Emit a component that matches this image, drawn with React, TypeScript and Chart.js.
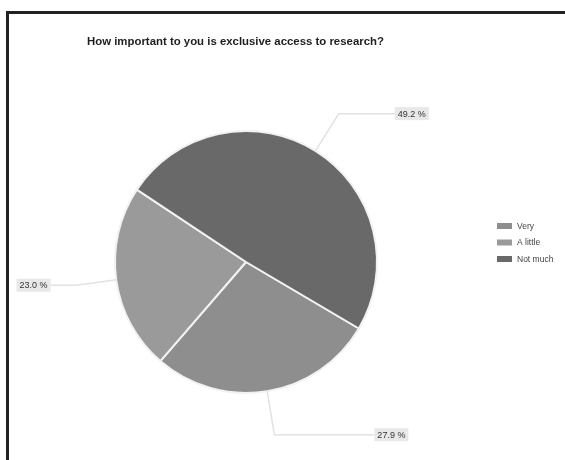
import React, { useEffect, useRef } from "react";
import { Chart, registerables } from "chart.js";

Chart.register(...registerables);

const chartTitle = "How important to you is exclusive access to research?";
const categories = ["Very", "A little", "Not much"];
const shares = [27.9, 23.0, 49.2];

const sliceColors = ["#8e8e8e", "#9a9a9a", "#696969"];
const calloutRun = [100, 26, 56];
const calloutReach = [44, 40, 44];

const NARROW = "'Liberation Sans Narrow', 'Liberation Sans', Arial, sans-serif";

const overlayPlugin = {
  id: "overlay",
  afterDatasetsDraw(chart: any) {
    const ctx = chart.ctx as CanvasRenderingContext2D;
    const meta = chart.getDatasetMeta(0);
    ctx.save();
    // callouts
    meta.data.forEach((arc: any, i: number) => {
      const p = arc.getProps(["x", "y", "startAngle", "endAngle", "outerRadius"], true);
      const mid = (p.startAngle + p.endAngle) / 2;
      const cx = Math.cos(mid), cy = Math.sin(mid);
      const ex = p.x + cx * p.outerRadius, ey = p.y + cy * p.outerRadius;
      const r2 = p.outerRadius + calloutReach[i];
      const bx = p.x + cx * r2, by = p.y + cy * r2;
      const side = cx >= 0 ? 1 : -1;
      const tx = bx + side * calloutRun[i];
      ctx.strokeStyle = "#e2e2e2";
      ctx.lineWidth = 1.5;
      ctx.beginPath();
      ctx.moveTo(ex, ey);
      ctx.lineTo(bx, by);
      ctx.lineTo(tx, by);
      ctx.stroke();
      const label = shares[i].toFixed(1) + " %";
      ctx.font = `9px ${NARROW}`;
      const w = ctx.measureText(label).width + 6;
      const h = 13;
      const left = side > 0 ? tx : tx - w;
      ctx.fillStyle = "#e8e8e8";
      ctx.fillRect(left, by - h / 2, w, h);
      ctx.fillStyle = "#333";
      ctx.textBaseline = "middle";
      ctx.textAlign = "left";
      ctx.fillText(label, left + 3, by + 0.5);
    });
    // title
    ctx.font = `bold 11.4px 'Liberation Sans', Arial, sans-serif`;
    ctx.fillStyle = "#1e1e1e";
    ctx.textAlign = "left";
    ctx.textBaseline = "alphabetic";
    ctx.fillText(chartTitle, 87, 45);
    // legend
    categories.forEach((c, i) => {
      const y = 226 + i * 16.5;
      ctx.fillStyle = sliceColors[i];
      ctx.fillRect(497, y - 3, 15, 6);
      ctx.fillStyle = "#444";
      ctx.font = `8.5px ${NARROW}`;
      ctx.textBaseline = "middle";
      ctx.fillText(c, 517, y + 0.5);
    });
    ctx.restore();
  },
};

export default function App() {
  const ref = useRef<HTMLCanvasElement | null>(null);
  useEffect(() => {
    if (!ref.current) return;
    const chart = new Chart(ref.current, {
      type: "pie",
      data: {
        labels: categories,
        datasets: [
          {
            data: shares,
            backgroundColor: sliceColors,
            borderColor: "#f2f2f2",
            borderWidth: 2,
          },
        ],
      },
      options: {
        responsive: false,
        animation: false,
        rotation: 120.5,
        layout: { padding: { top: 130, bottom: 66, left: 0, right: 73 } },
        plugins: {
          legend: { display: false },
          title: { display: false },
          tooltip: { enabled: false },
        },
      },
      plugins: [overlayPlugin],
    });
    return () => chart.destroy();
  }, []);
  return (
    <div style={{ position: "absolute", left: 0, top: 0, width: 565, height: 460, background: "#fff", overflow: "hidden" }}>
      <div
        style={{
          position: "absolute",
          left: 6,
          top: 11,
          width: 600,
          height: 500,
          borderTop: "3px solid #222",
          borderLeft: "3px solid #222",
          boxSizing: "border-box",
        }}
      />
      <canvas ref={ref} width={565} height={460} style={{ position: "absolute", left: 0, top: 0 }} />
    </div>
  );
}
